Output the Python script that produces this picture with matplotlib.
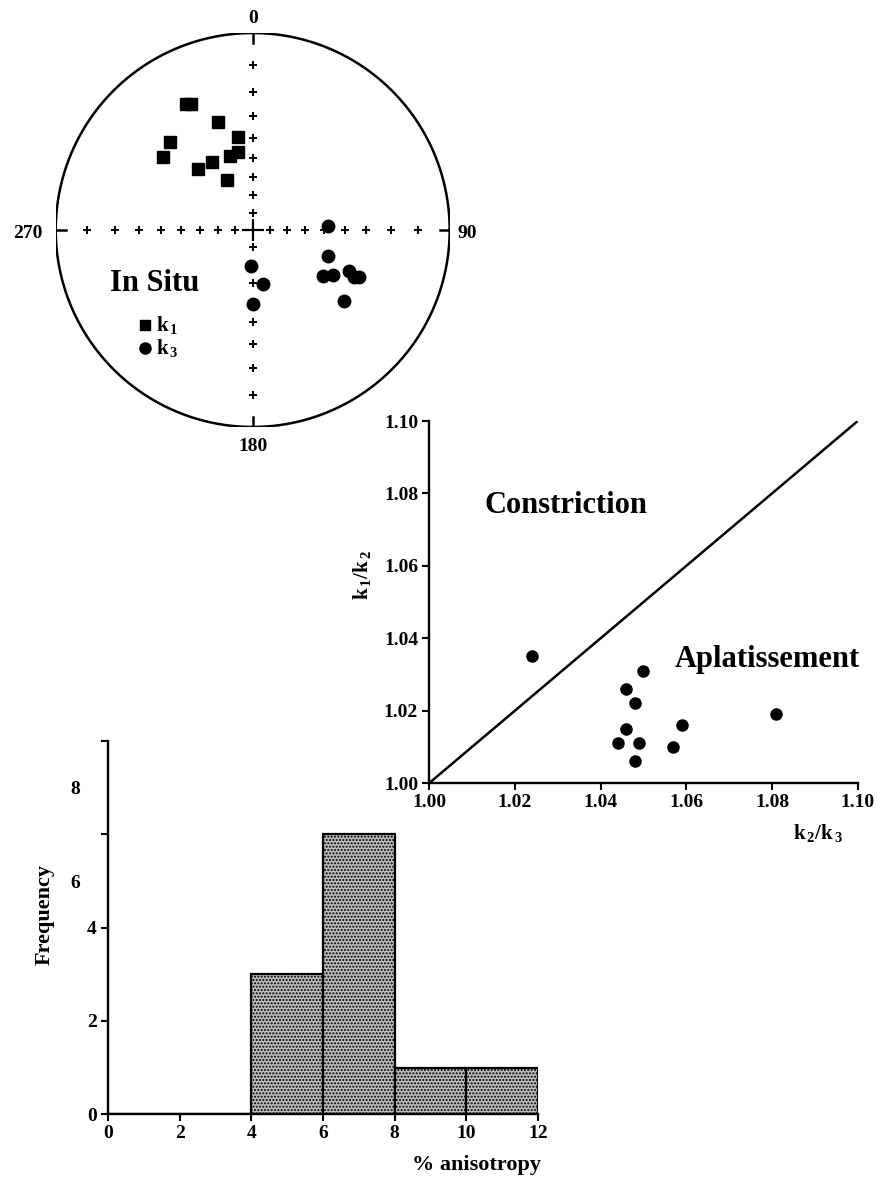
import matplotlib.pyplot as plt
import numpy as np

# stereonet data (declination / inclination, degrees)
k1_dec = [332, 334, 342, 317, 351, 309, 349, 343, 329, 318, 333]
k1_inc = [18, 19, 30, 27, 39, 29, 46, 47, 46, 45, 58]
k3_dec = [87, 109, 123, 119, 113, 115, 114, 128, 182, 169, 180]
k3_inc = [48, 46, 44, 40, 34, 31, 29, 29, 69, 59, 49]

# shape diagram
k2_k3 = [1.024, 1.050, 1.046, 1.048, 1.081, 1.059, 1.046, 1.044, 1.049, 1.057, 1.048]
k1_k2 = [1.035, 1.031, 1.026, 1.022, 1.019, 1.016, 1.015, 1.011, 1.011, 1.010, 1.006]

# histogram of % anisotropy
bin_edges = [0, 2, 4, 6, 8, 10, 12]
counts = [0, 0, 3, 6, 1, 1]

plt.rcParams['font.family'] = 'Liberation Serif'
plt.rcParams['font.weight'] = 'bold'
plt.rcParams['mathtext.fontset'] = 'custom'
plt.rcParams['mathtext.rm'] = 'Liberation Serif:bold'
plt.rcParams['mathtext.it'] = 'Liberation Serif:bold'
plt.rcParams['mathtext.bf'] = 'Liberation Serif:bold'
plt.rcParams['hatch.linewidth'] = 1.0
plt.rcParams['hatch.color'] = '#202020'


def wulff(dec, inc):
    dec = np.radians(dec)
    r = np.tan(np.radians(90 - np.asarray(inc, float)) / 2)
    return r * np.sin(dec), r * np.cos(dec)


fig = plt.figure(figsize=(8.77, 11.88), dpi=100)

# ---- stereonet ----
ax1 = fig.add_axes([0.0635, 0.6406, 0.4493, 0.3316])
ax1.set_xlim(-1, 1)
ax1.set_ylim(-1, 1)
ax1.set_aspect('equal')
ax1.axis('off')

t = np.linspace(0, 2 * np.pi, 400)
ax1.plot(np.cos(t), np.sin(t), color='k', lw=1.8)

grid_inc = np.arange(10, 90, 10)
for d in [0, 90, 180, 270]:
    gx, gy = wulff(np.full(len(grid_inc), d), grid_inc)
    ax1.plot(gx, gy, '+', color='k', ms=6, mew=1.4, ls='none')
    ex, ey = wulff([d, d], [0, 3])
    ax1.plot(ex, ey, color='k', lw=1.8)
ax1.plot([0], [0], '+', color='k', ms=16, mew=1.6)

x1, y1 = wulff(k1_dec, k1_inc)
x3, y3 = wulff(k3_dec, k3_inc)
ax1.plot(x1, y1, 's', color='k', ms=8.5, ls='none')
ax1.plot(x3, y3, 'o', color='k', ms=9, ls='none')

ax1.text(0, 1.075, '0', ha='center', va='center', fontsize=14)
ax1.text(0, -1.1, '180', ha='center', va='center', fontsize=14)
ax1.text(-1.14, -0.02, '270', ha='center', va='center', fontsize=14)
ax1.text(1.09, -0.02, '90', ha='center', va='center', fontsize=14)

ax1.text(-0.725, -0.27, 'In Situ', ha='left', va='center', fontsize=22)
ax1.plot([-0.545], [-0.482], 's', color='k', ms=7)
ax1.plot([-0.545], [-0.60], 'o', color='k', ms=8)
ax1.text(-0.49, -0.482, r'$\mathrm{k_{\,1}}$', ha='left', va='center', fontsize=15)
ax1.text(-0.49, -0.60, r'$\mathrm{k_{\,3}}$', ha='left', va='center', fontsize=15)

# ---- histogram ----
ax3 = fig.add_axes([0.1231, 0.0620, 0.4903, 0.3145])
ax3.bar(bin_edges[:-1], counts, width=2, align='edge', facecolor='#bdbdbd',
        edgecolor='k', linewidth=1.6, hatch='.....')
ax3.set_xlim(0, 12)
ax3.set_ylim(0, 8)
ax3.set_xticks(bin_edges)
ax3.set_xticklabels([str(b) for b in bin_edges])
ax3.set_yticks([0, 2, 4, 6, 8])
ax3.set_yticklabels(['0', '2', '4', '', ''])
ytr = ax3.get_yaxis_transform()
ax3.text(-0.075, 4.95, '6', transform=ytr, ha='center', va='center', fontsize=14)
ax3.text(-0.075, 6.95, '8', transform=ytr, ha='center', va='center', fontsize=14)

# ---- shape diagram ----
ax2 = fig.add_axes([0.4895, 0.3409, 0.4885, 0.3047])
ax2.set_xlim(1.0, 1.1)
ax2.set_ylim(1.0, 1.1)
ax2.plot([1.0, 1.1], [1.0, 1.1], color='k', lw=1.8)
ax2.plot(k2_k3, k1_k2, 'o', color='k', ms=8, ls='none')
ax2.set_xticks([1.00, 1.02, 1.04, 1.06, 1.08, 1.10])
ax2.set_yticks([1.00, 1.02, 1.04, 1.06, 1.08, 1.10])
ax2.set_xticklabels(['1.00', '1.02', '1.04', '1.06', '1.08', '1.10'])
ax2.set_yticklabels(['1.00', '1.02', '1.04', '1.06', '1.08', '1.10'])
ax2.text(1.013, 1.0768, 'Constriction', ha='left', va='center', fontsize=22)
ax2.text(1.0573, 1.034, 'Aplatissement', ha='left', va='center', fontsize=22)

for ax in (ax1, ax2, ax3):
    ax.patch.set_visible(False)

for ax in (ax2, ax3):
    for s in ['top', 'right']:
        ax.spines[s].set_visible(False)
    for s in ['left', 'bottom']:
        ax.spines[s].set_linewidth(1.7)
    ax.tick_params(direction='out', length=5, width=1.5, labelsize=14, pad=3)

fig.text(0.413, 0.516, r'$\mathrm{k_{\,1}/k_{\,2}}$', rotation=90, ha='center', va='center', fontsize=15)
fig.text(0.933, 0.299, r'$\mathrm{k_{\,2}/k_{\,3}}$', ha='center', va='center', fontsize=15)
fig.text(0.051, 0.230, 'Frequency', rotation=90, ha='center', va='center', fontsize=16)
fig.text(0.543, 0.0194, '% anisotropy', ha='center', va='center', fontsize=16)

fig.savefig('out.png', dpi=100)
